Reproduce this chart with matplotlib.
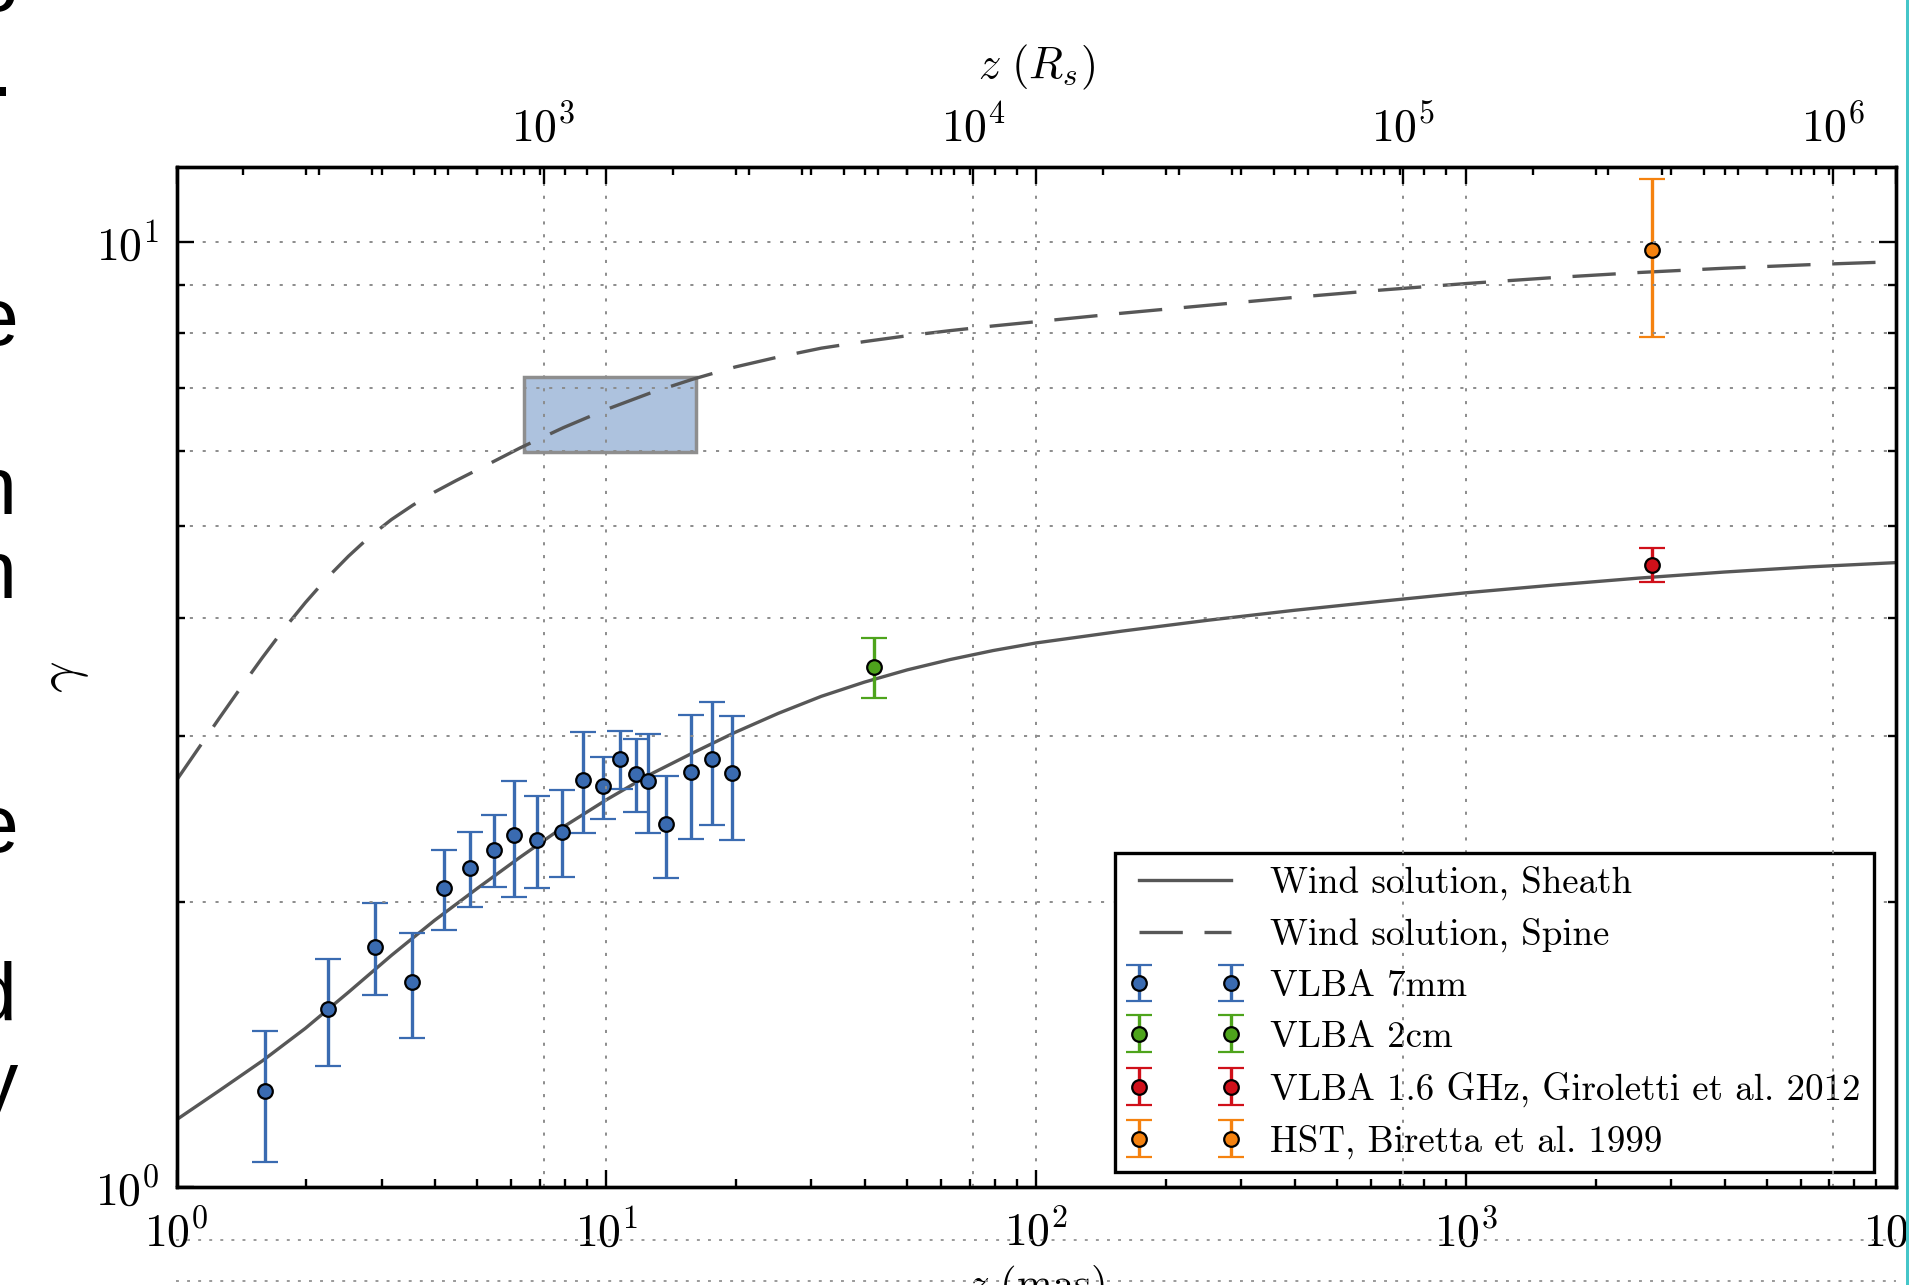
import numpy as np
import matplotlib
matplotlib.use("Agg")
import matplotlib.pyplot as plt
from matplotlib.patches import Rectangle
from matplotlib.lines import Line2D
from matplotlib.ticker import FuncFormatter, NullFormatter

# values: z in mas, gamma = Lorentz factor
vlba7_z = [1.61, 2.25, 2.89, 3.53, 4.18, 4.82, 5.47, 6.11, 6.90, 7.87,
           8.83, 9.82, 10.76, 11.73, 12.51, 13.79, 15.72, 17.64, 19.58]
vlba7_g = [1.263, 1.542, 1.795, 1.646, 2.072, 2.176, 2.275, 2.356, 2.331, 2.377,
           2.696, 2.653, 2.836, 2.735, 2.691, 2.422, 2.745, 2.838, 2.738]
vlba7_err = [0.20, 0.20, 0.20, 0.21, 0.20, 0.20, 0.20, 0.33, 0.26, 0.25,
             0.33, 0.20, 0.20, 0.24, 0.32, 0.30, 0.41, 0.42, 0.41]

vlba2_z = [42.0]
vlba2_g = [3.55]
vlba2_err = [0.26]

gir_z = [2700.0]
gir_g = [4.55]
gir_err = [0.19]

hst_z = [2700.0]
hst_g = [9.79]
hst_err = [1.86]

# wind solutions, sampled along the drawn curves
sheath_z = [1, 1.259, 1.585, 1.995, 2.512, 3.162, 3.981, 5.012, 6.310, 7.943,
            10, 12.59, 15.85, 19.95, 25.12, 31.62, 39.81, 50.12, 63.10, 79.43,
            100, 158.5, 251.2, 398.1, 631.0, 1000, 1585, 2512, 3981, 6310, 10000]
sheath_g = [1.178, 1.265, 1.360, 1.472, 1.607, 1.758, 1.914, 2.070, 2.234, 2.404,
            2.568, 2.729, 2.877, 3.027, 3.170, 3.304, 3.420, 3.524, 3.614, 3.694,
            3.763, 3.873, 3.977, 4.074, 4.164, 4.252, 4.331, 4.406, 4.472, 4.529, 4.576]

spine_z = [1, 1.122, 1.259, 1.413, 1.585, 1.778, 1.995, 2.239, 2.512, 2.818,
           3.162, 3.548, 3.981, 4.467, 5.012, 6.310, 7.943, 10, 12.59, 15.85,
           19.95, 25.12, 31.62, 39.81, 50.12, 63.10, 79.43, 100, 158.5, 251.2,
           398.1, 631.0, 1000, 1585, 2512, 3981, 6310, 10000]
spine_g = [2.693, 2.906, 3.135, 3.378, 3.632, 3.893, 4.152, 4.407, 4.648, 4.877,
           5.082, 5.264, 5.433, 5.587, 5.737, 6.053, 6.357, 6.645, 6.911, 7.151,
           7.370, 7.551, 7.715, 7.839, 7.952, 8.052, 8.144, 8.229, 8.401, 8.565,
           8.730, 8.886, 9.030, 9.160, 9.275, 9.373, 9.455, 9.524]

box_z = [6.44, 16.2]
box_g = [5.99, 7.2]

mas_to_rs = 140.0

blue = "#3a6bb1"
green = "#4ea41c"
red = "#d0101a"
orange = "#f5820f"
curve_col = "#575757"
grid_col = "#8c8c8c"

plt.rcParams.update({
    "font.family": "serif",
    "font.serif": ["cmr10"],
    "mathtext.fontset": "cm",
    "axes.unicode_minus": False,
    "axes.formatter.use_mathtext": True,
})

W, H = 1909, 1285
fig = plt.figure(figsize=(W / 100, H / 100), dpi=100)
ax = fig.add_axes([176.5 / W, 1 - 1187 / H, (1896 - 176.5) / W, (1187 - 166.8) / H])

ax.add_patch(Rectangle((box_z[0], box_g[0]), box_z[1] - box_z[0], box_g[1] - box_g[0],
                       facecolor="#adc2de", edgecolor="#8e8e8e", lw=2.5, zorder=1))

ax.plot(sheath_z, sheath_g, color=curve_col, lw=2.4, label="Wind solution, Sheath")
ax.plot(spine_z, spine_g, color=curve_col, lw=2.4, dashes=(13, 6.5), label="Wind solution, Spine")

eb = dict(fmt="o", ms=10.5, mec="k", mew=1.6, elinewidth=2.4, capsize=9.5, capthick=2.4)
ax.errorbar(vlba7_z, vlba7_g, yerr=vlba7_err, color=blue, mfc=blue, label="VLBA 7mm", **eb)
ax.errorbar(vlba2_z, vlba2_g, yerr=vlba2_err, color=green, mfc=green, label="VLBA 2cm", **eb)
ax.errorbar(gir_z, gir_g, yerr=gir_err, color=red, mfc=red,
            label="VLBA 1.6 GHz, Giroletti et al. 2012", **eb)
ax.errorbar(hst_z, hst_g, yerr=hst_err, color=orange, mfc=orange,
            label="HST, Biretta et al. 1999", **eb)

ax.set_xscale("log")
ax.set_yscale("log")
ax.set_xlim(1, 1e4)
ax.set_ylim(1, 12)
ax.set_axisbelow(False)

decade = FuncFormatter(lambda v, p: r"$\mathrm{10^{%d}}$" % round(np.log10(v)))
ax.xaxis.set_major_formatter(decade)
ax.yaxis.set_major_formatter(decade)
ax.xaxis.set_minor_formatter(NullFormatter())
ax.yaxis.set_minor_formatter(NullFormatter())

gkw = dict(color=grid_col, lw=1.4, dashes=(1.6, 5.0))
ax.grid(True, which="major", axis="x", **gkw)
ax.grid(True, which="both", axis="y", **gkw)

# top axis in Schwarzschild radii
ax2 = ax.twiny()
ax2.set_xscale("log")
ax2.set_xlim(1 * mas_to_rs, 1e4 * mas_to_rs)
ax2.xaxis.set_major_formatter(decade)
ax2.xaxis.set_minor_formatter(NullFormatter())
ax2.grid(True, which="major", axis="x", **gkw)

ax.tick_params(which="both", direction="in", top=True, right=True, width=1.7, labelsize=33)
ax.tick_params(which="major", length=12)
ax.tick_params(which="minor", length=6)
ax.tick_params(axis="x", pad=16)
ax.tick_params(axis="y", pad=12)
ax2.tick_params(which="both", direction="in", width=1.7, labelsize=33, pad=12)
ax2.tick_params(which="major", length=12)
ax2.tick_params(which="minor", length=6)
for a in (ax, ax2):
    for s in a.spines.values():
        s.set_linewidth(2.4)

ax2.set_xlabel(r"$z\ (R_s)$", fontsize=32)
ax2.xaxis.set_label_coords(0.5, 1.087)
ax.set_xlabel(r"$z\ (\mathrm{mas})$", fontsize=31)
ax.xaxis.set_label_coords(0.5, -0.0745)
ax.set_ylabel(r"$\gamma$", fontsize=40)
ax.yaxis.set_label_coords(-0.050, 0.5)

leg = ax.legend(loc="lower right", bbox_to_anchor=(0.987, 0.0147), borderaxespad=0,
                numpoints=2, fancybox=False, framealpha=1, edgecolor="k",
                fontsize=26.6, handlelength=3.1, handletextpad=0.76,
                labelspacing=0.48, borderpad=0.35)
leg.get_frame().set_linewidth(2.4)

# stray gridlines of the next panel below the plot
for yy in (1240, 1281):
    fig.add_artist(Line2D([176 / W, 1896 / W], [1 - yy / H] * 2, color="#9a9a9a",
                          lw=1.4, dashes=(1.5, 4.2)))

# slide text cut off at the left edge
frag_chars = ["o", ".", "e", "n", "n", "e", "d", "y"]
frag_right = [18, 13, 18, 16, 16, 18, 16, 18]
frag_base = [11, 96, 345, 514, 598, 852, 1020, 1108]
for ch, xr, yb in zip(frag_chars, frag_right, frag_base):
    fig.text(xr / W, 1 - yb / H, ch, ha="right", va="baseline", fontsize=58,
             family="Liberation Sans", color="k")

# slide frame line at the right edge
fig.add_artist(Rectangle((1906 / W, 0), 3 / W, 1, transform=fig.transFigure,
                         facecolor="#45c6c9", lw=0))

fig.savefig("out.png", dpi=100)
